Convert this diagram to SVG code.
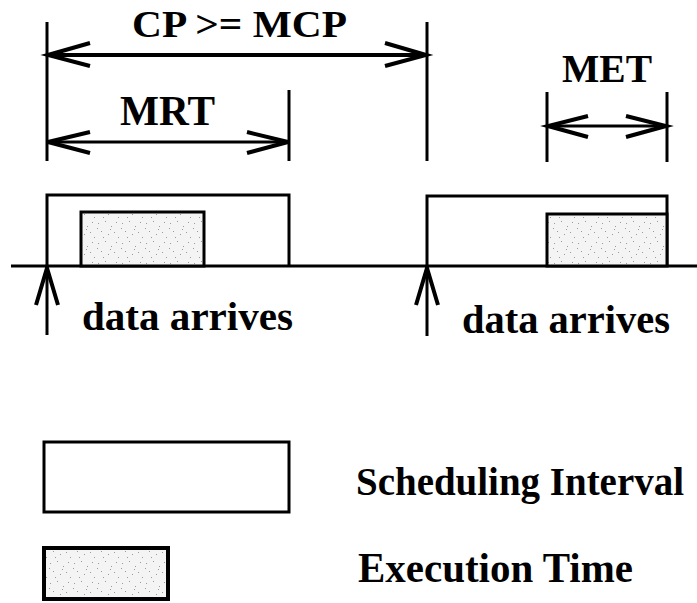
<svg xmlns="http://www.w3.org/2000/svg" width="697" height="603" viewBox="0 0 697 603">
<style>
.ln{stroke:#000;stroke-width:3;fill:none;stroke-linecap:butt}
.ah{stroke:#000;stroke-width:4;fill:none;stroke-linecap:butt;stroke-linejoin:miter}
.si{stroke:#000;stroke-width:3;fill:#fff}
.ex{stroke:#000;stroke-width:3;fill:url(#stip)}
.t{font-family:"Liberation Serif","Times New Roman",serif;font-weight:bold;fill:#000}
</style>
<defs>
<pattern id="stip" width="24" height="20" patternUnits="userSpaceOnUse">
<rect width="24" height="20" fill="#f4f4f4"/>
<g fill="#9a9a9a">
<rect x="2" y="3" width="1" height="1"/><rect x="9" y="1" width="1" height="1"/><rect x="15" y="6" width="1" height="1"/>
<rect x="20" y="2" width="1" height="1"/><rect x="5" y="11" width="1" height="1"/><rect x="12" y="14" width="1" height="1"/>
<rect x="18" y="12" width="1" height="1"/><rect x="22" y="17" width="1" height="1"/><rect x="7" y="17" width="1" height="1"/>
<rect x="1" y="8" width="1" height="1"/><rect x="14" y="9" width="1" height="1"/>
</g>
</pattern>
</defs>

<g id="connectors">
<line class="ln" x1="47" y1="22" x2="47" y2="161"/>
<line class="ln" x1="427" y1="22" x2="427" y2="161"/>
<line class="ln" x1="289" y1="90" x2="289" y2="161"/>
<line class="ln" x1="547" y1="92" x2="547" y2="162"/>
<line class="ln" x1="667" y1="92" x2="667" y2="162"/>
<line class="ah" x1="47" y1="55" x2="427" y2="55"/>
<path class="ah" d="M90,43 L48,55 L90,66"/>
<path class="ah" d="M385,43 L426,55 L385,66"/>
<line class="ln" x1="47" y1="142" x2="289" y2="142"/>
<path class="ah" d="M90,132 L48,142 L90,153"/>
<path class="ah" d="M247,132 L288,142 L247,153"/>
<line class="ln" x1="547" y1="126" x2="667" y2="126"/>
<path class="ah" d="M588,116 L548,126 L588,137"/>
<path class="ah" d="M626,116 L666,126 L626,137"/>
<line class="ln" x1="11" y1="266" x2="697" y2="266"/>
<line class="ln" x1="47" y1="266" x2="47" y2="335"/>
<path class="ah" d="M36,305 L47,268 L58,305"/>
<line class="ln" x1="427" y1="266" x2="427" y2="336"/>
<path class="ah" d="M416,305 L427,268 L438,305"/>
</g>

<g id="interval1">
<path class="ln" d="M47,266 V195 H289 V266"/>
</g>
<g id="exec1">
<rect class="ex" x="81" y="212" width="123" height="54"/>
</g>
<g id="interval2">
<path class="ln" d="M427,266 V196 H667 V266"/>
</g>
<g id="exec2">
<rect class="ex" x="547" y="214" width="120" height="52"/>
</g>

<g id="labels">
<text class="t" x="132" y="37" font-size="37" textLength="215" lengthAdjust="spacingAndGlyphs">CP &gt;= MCP</text>
<text class="t" x="120" y="125" font-size="43" textLength="95" lengthAdjust="spacingAndGlyphs">MRT</text>
<text class="t" x="562" y="82" font-size="41" textLength="90" lengthAdjust="spacingAndGlyphs">MET</text>
<text class="t" x="82" y="330" font-size="41" textLength="211" lengthAdjust="spacingAndGlyphs">data arrives</text>
<text class="t" x="462" y="333" font-size="41" textLength="208" lengthAdjust="spacingAndGlyphs">data arrives</text>
</g>

<g id="legend-si">
<rect class="si" x="44" y="442" width="245" height="70"/>
<text class="t" x="356" y="495" font-size="40" textLength="328" lengthAdjust="spacingAndGlyphs">Scheduling Interval</text>
</g>
<g id="legend-ex">
<rect class="ex" x="44" y="548" width="124" height="51" style="stroke-width:4"/>
<text class="t" x="358" y="582" font-size="43" textLength="275" lengthAdjust="spacingAndGlyphs">Execution Time</text>
</g>
</svg>
